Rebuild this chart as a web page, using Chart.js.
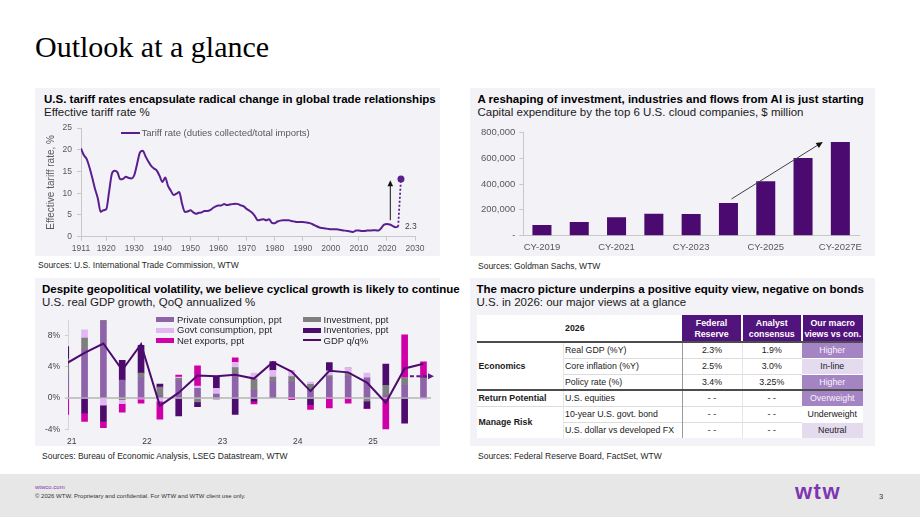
<!DOCTYPE html>
<html lang="en">
<head>
<meta charset="utf-8">
<title>Outlook at a glance</title>
<script src="https://cdn.jsdelivr.net/npm/chart.js@4.4.1/dist/chart.umd.min.js"></script>
<style>
html,body{margin:0;padding:0;}
body{width:920px;height:518px;position:relative;overflow:hidden;background:#fff;font-family:"Liberation Sans",Arial,Helvetica,sans-serif;}
.panel{position:absolute;background:#f3f2f7;width:405px;height:168px;}
.tx{position:absolute;white-space:nowrap;line-height:1;}
.ttl{font-size:11.5px;font-weight:bold;color:#000;}
.sub{font-size:11.5px;color:#1a1a1a;}
.src{font-size:8.5px;color:#262626;}
canvas{position:absolute;}
.lg{position:absolute;font-size:9.5px;line-height:1;white-space:nowrap;color:#262626;}
.sw{position:absolute;}
.cell{position:absolute;box-sizing:border-box;display:flex;align-items:center;font-size:8.8px;line-height:1.2;color:#1a1a1a;white-space:pre;}
.foot{position:absolute;left:0;top:474px;width:920px;height:43px;background:#e7e7e7;}
</style>
</head>
<body>
<div class="tx" style="left:35px;top:32px;font-family:'Liberation Serif','Times New Roman',serif;font-size:30px;color:#000;">Outlook at a glance</div>

<!-- panels -->
<div class="panel" style="left:35px;top:88px"></div>
<div class="panel" style="left:470px;top:88px"></div>
<div class="panel" style="left:35px;top:278px"></div>
<div class="panel" style="left:470px;top:278px"></div>

<!-- top-left -->
<div class="tx ttl" style="left:44px;top:94px">U.S. tariff rates encapsulate radical change in global trade relationships</div>
<div class="tx sub" style="left:44px;top:106.5px">Effective tariff rate %</div>
<canvas id="cTariff" width="405" height="140" style="left:35px;top:118px"></canvas>
<div id="lgTariff"></div>
<div class="tx src" style="left:38px;top:260.5px">Sources: U.S. International Trade Commission, WTW</div>

<!-- top-right -->
<div class="tx ttl" style="left:477.5px;top:94px">A reshaping of investment, industries and flows from AI is just starting</div>
<div class="tx sub" style="left:477.5px;top:106.5px">Capital expenditure by the top 6 U.S. cloud companies, $ million</div>
<canvas id="cCapex" width="405" height="140" style="left:470px;top:118px"></canvas>
<div class="tx src" style="left:478px;top:261.5px">Sources: Goldman Sachs, WTW</div>

<!-- bottom-left -->
<div class="tx ttl" style="left:42px;top:284px">Despite geopolitical volatility, we believe cyclical growth is likely to continue</div>
<div class="tx sub" style="left:42px;top:297.3px">U.S. real GDP growth, QoQ annualized %</div>
<canvas id="cGdp" width="405" height="137" style="left:35px;top:310px"></canvas>
<div id="lgGdp"></div>
<div class="tx src" style="left:42px;top:452px">Sources: Bureau of Economic Analysis, LSEG Datastream, WTW</div>

<!-- bottom-right -->
<div class="tx ttl" style="left:476.5px;top:284px">The macro picture underpins a positive equity view, negative on bonds</div>
<div class="tx sub" style="left:476.5px;top:297.3px">U.S. in 2026: our major views at a glance</div>
<div id="tbl"></div>
<div class="tx src" style="left:478px;top:452px">Sources: Federal Reserve Board, FactSet, WTW</div>

<!-- footer -->
<div class="foot"></div>
<div class="tx" style="left:35px;top:484px;font-size:6px;color:#7f35b2;">wtwco.com</div>
<div class="tx" style="left:35px;top:492.5px;font-size:6px;color:#333;">© 2026 WTW. Proprietary and confidential. For WTW and WTW client use only.</div>
<div class="tx" style="left:795px;top:481px;font-size:22px;font-weight:900;color:#7f35b2;letter-spacing:1.5px;">wtw</div>
<div class="tx" style="left:879px;top:493px;font-size:7.5px;color:#333;">3</div>

<script>
// ---------------- DATA ----------------
// Effective tariff rate (duties collected / total imports), %
const tariffYears = [1911,1912,1913,1914,1915,1916,1917,1918,1919,1920,
  1921,1922,1923,1924,1925,1926,1927,1928,1929,1930,
  1931,1932,1933,1934,1935,1936,1937,1938,1939,1940,
  1941,1942,1943,1944,1945,1946,1947,1948,1949,1950,
  1951,1952,1953,1954,1955,1956,1957,1958,1959,1960,
  1961,1962,1963,1964,1965,1966,1967,1968,1969,1970,
  1971,1972,1973,1974,1975,1976,1977,1978,1979,1980,
  1981,1982,1983,1984,1985,1986,1987,1988,1989,1990,
  1991,1992,1993,1994,1995,1996,1997,1998,1999,2000,
  2001,2002,2003,2004,2005,2006,2007,2008,2009,2010,
  2011,2012,2013,2014,2015,2016,2017,2018,2019,2020,
  2021,2022,2023,2024];
const tariffRates = [20.3,18.8,17.9,16.0,13.6,11.0,8.8,5.7,6.1,6.3,
  10.3,14.5,15.2,14.8,13.2,13.3,13.8,13.5,13.4,14.2,
  16.8,19.4,19.8,18.5,17.3,16.3,15.7,15.2,14.0,12.6,
  13.6,11.7,10.6,9.6,9.9,10.3,7.6,5.7,5.8,6.1,
  5.6,5.3,5.5,5.6,5.9,5.9,6.1,6.6,7.0,7.2,
  7.2,7.5,7.3,7.4,7.5,7.6,7.5,7.2,7.0,6.4,
  6.0,5.5,4.7,3.8,3.9,4.0,3.8,4.0,3.2,3.1,
  3.5,3.7,3.8,3.8,3.8,3.6,3.5,3.4,3.4,3.4,
  3.3,3.2,3.0,2.7,2.4,2.1,2.0,1.9,1.8,1.7,
  1.7,1.7,1.6,1.5,1.4,1.3,1.2,1.1,1.4,1.4,
  1.3,1.3,1.4,1.4,1.5,1.5,1.4,2.0,2.8,2.9,
  2.8,2.5,2.2,2.3];
const tariffProjYears = [2024, 2025];
const tariffProjRates = [2.3, 13.3];
const tariffTickYears = [1911,1920,1930,1940,1950,1960,1970,1980,1990,2000,2010,2020,2030];
const tariffArrow = {year: 2021.2, from: 3.8, to: 13.0};

// Capex of top 6 U.S. cloud companies, $ million
const capexYears = ['CY-2019','CY-2020','CY-2021','CY-2022','CY-2023','CY-2024','CY-2025','CY-2026','CY-2027E'];
const capexValues = [82000,106000,142000,170000,168000,253000,421000,601000,725000];
const capexArrow = {fromIndex: 5.08, fromValue: 284000, toIndex: 7.53, toValue: 725000};

// U.S. real GDP growth contributions, QoQ annualized
const gdpQuarters = ['20Q4','21Q1','21Q2','21Q3','21Q4','22Q1','22Q2','22Q3','22Q4','23Q1','23Q2','23Q3','23Q4','24Q1','24Q2','24Q3','24Q4','25Q1','25Q2','25Q3'];
const privCons    = [3.0, 6.2, 9.85, 2.3, 2.6, 0.3, 2.2, 1.25, 0.5, 3.2, 1.0, 2.1, 2.05, 1.0, 2.6, 2.8, 2.6, 0.4, 1.65, 2.4];
const investment  = [2.0, 1.5, 0.15, -0.2, 0.6, 1.1, 0.35, -0.5, -0.15, 0.7, 1.4, 0.6, 0.7, 0.75, 0.3, 0.4, -0.4, 1.25, 0.95, 0.2];
const govtCons    = [0.0, 1.05, -0.9, -0.5, -0.1, -0.4, 0.15, 0.3, 0.75, 0.7, 0.8, 0.85, 0.8, 0.3, 0.6, 0.65, 0.6, 0.0, 0.0, -0.15];
const inventories = [1.6, -1.9, -2.1, 2.55, 3.55, 0.4, -2.3, -0.6, 1.45, -2.1, -0.4, 1.1, 0.0, -0.85, 1.05, 0.0, -0.85, 2.7, -3.2, 0.0];
const netExports  = [-2.1, -1.1, -0.8, -1.1, -0.55, -2.3, 0.25, 2.6, 0.0, 0.55, -0.35, 0.0, -0.2, -0.6, -1.25, -0.65, -0.1, -4.1, 5.5, 2.05];
const gdpGrowth   = [4.4, 5.8, 7.0, 3.6, 6.9, -1.0, 0.7, 2.9, 2.8, 3.0, 2.5, 4.6, 3.4, 0.9, 3.5, 3.3, 2.0, -0.6, 3.8, 4.4];
const gdpYearLabels = ['21','22','23','24','25'];
const gdpYTicks = [-4, 0, 4, 8];
const gdpArrow = {fromIndex: 18.28, toIndex: 19.56, value: 2.8};

// Table: U.S. in 2026
const tableHead = ['2026', 'Federal\nReserve', 'Analyst\nconsensus', 'Our macro\nviews vs con.'];
const tableGroups = [['Economics', 0, 3], ['Return Potential', 3, 1], ['Manage Risk', 4, 2]];
const tableItems = ['Real GDP (%Y)', 'Core inflation (%Y)', 'Policy rate (%)', 'U.S. equities', '10-year U.S. govt. bond', 'U.S. dollar vs developed FX'];
const fedReserve = ['2.3%', '2.5%', '3.4%', '- -', '- -', '- -'];
const analystConsensus = ['1.9%', '3.0%', '3.25%', '- -', '- -', '- -'];
const ourViews = ['Higher', 'In-line', 'Higher', 'Overweight', 'Underweight', 'Neutral'];

// ---------------- STYLE ----------------
const FONT = '"Liberation Sans", Arial, sans-serif';
Chart.defaults.font.family = FONT;
Chart.defaults.color = '#595959';
Chart.defaults.animation = false;
const TICK = '#595959';
const AXIS = '#c8c8c8';
const PURPLE_LINE = '#5a1e8e';
const C_PRIV = '#8e63a9', C_INV = '#7f7f7f', C_GOV = '#e1b6f2', C_STK = '#4c0b6d', C_NX = '#d000a8', C_GDP = '#4c0b6d';
const C_CAPEX = '#4a0a70';
const noUi = {legend: {display: false}, tooltip: {enabled: false}};

function arrowHead(ctx, x, y, angle, len, half) {
  ctx.beginPath();
  ctx.moveTo(x, y);
  ctx.lineTo(x - len * Math.cos(angle) + half * Math.sin(angle), y - len * Math.sin(angle) - half * Math.cos(angle));
  ctx.lineTo(x - len * Math.cos(angle) - half * Math.sin(angle), y - len * Math.sin(angle) + half * Math.cos(angle));
  ctx.closePath();
  ctx.fill();
}

// ---------------- TARIFF CHART ----------------
const tariffNotes = {
  id: 'tariffNotes',
  afterDatasetsDraw(chart) {
    const {ctx, scales: {x, y}} = chart;
    const px = x.getPixelForValue(tariffArrow.year);
    const y0 = y.getPixelForValue(tariffArrow.from), y1 = y.getPixelForValue(tariffArrow.to);
    ctx.save();
    ctx.strokeStyle = '#111'; ctx.fillStyle = '#111'; ctx.lineWidth = 1;
    ctx.beginPath(); ctx.moveTo(px, y0); ctx.lineTo(px, y1 + 5); ctx.stroke();
    arrowHead(ctx, px, y1, -Math.PI / 2, 6, 2.8);
    const last = tariffRates[tariffRates.length - 1];
    ctx.font = '8.5px ' + FONT; ctx.fillStyle = '#404040';
    ctx.textAlign = 'left'; ctx.textBaseline = 'middle';
    ctx.fillText(last.toFixed(1), x.getPixelForValue(2026.4), y.getPixelForValue(last));
    ctx.restore();
  }
};
new Chart(document.getElementById('cTariff'), {
  type: 'line',
  data: {
    datasets: [
      {label: 'Tariff rate (duties collected/total imports)',
       data: tariffYears.map((yr, i) => ({x: yr, y: tariffRates[i]})),
       borderColor: PURPLE_LINE, borderWidth: 2, pointRadius: 0, cubicInterpolationMode: 'monotone', clip: 0},
      {label: 'Projection',
       data: tariffProjYears.map((yr, i) => ({x: yr, y: tariffProjRates[i]})),
       borderColor: PURPLE_LINE, borderWidth: 1.8, borderDash: [2, 2], pointRadius: [0, 3.5],
       pointBackgroundColor: PURPLE_LINE, pointBorderWidth: 0}
    ]
  },
  options: {
    responsive: false, devicePixelRatio: 1,
    layout: {padding: {left: 0, right: 25, top: 9.3, bottom: 0}},
    plugins: noUi,
    scales: {
      x: {type: 'linear', min: 1911, max: 2030,
          afterBuildTicks: s => { s.ticks = tariffTickYears.map(v => ({value: v})); },
          afterFit: s => { s.height = 21.3; },
          ticks: {callback: v => String(v), font: {size: 8.5}, color: TICK, padding: 3, maxRotation: 0, autoSkip: false},
          grid: {drawOnChartArea: false, tickLength: 4, color: AXIS},
          border: {color: AXIS}},
      y: {min: 0, max: 25,
          afterFit: s => { s.width = 46; },
          ticks: {stepSize: 5, font: {size: 8.5}, color: TICK, padding: 5},
          grid: {drawOnChartArea: false, tickLength: 4, color: AXIS},
          border: {color: AXIS},
          title: {display: true, text: 'Effective tariff rate, %', font: {size: 10}, color: TICK, padding: {top: 10, bottom: 0}}}
    }
  },
  plugins: [tariffNotes]
});
// HTML legend (tariff)
(function () {
  const el = document.getElementById('lgTariff');
  el.innerHTML = '<div class="sw" style="left:121px;top:132px;width:19px;height:2px;background:' + PURPLE_LINE + '"></div>' +
    '<div class="lg" style="left:141.5px;top:128.3px;color:#595959">Tariff rate (duties collected/total imports)</div>';
})();

// ---------------- CAPEX CHART ----------------
const capexNotes = {
  id: 'capexNotes',
  afterDatasetsDraw(chart) {
    const {ctx, scales: {x, y}} = chart;
    const x0 = x.getPixelForValue(capexArrow.fromIndex), y0 = y.getPixelForValue(capexArrow.fromValue);
    const x1 = x.getPixelForValue(capexArrow.toIndex), y1 = y.getPixelForValue(capexArrow.toValue);
    const a = Math.atan2(y1 - y0, x1 - x0);
    ctx.save();
    ctx.strokeStyle = '#404040'; ctx.fillStyle = '#111'; ctx.lineWidth = 1;
    ctx.beginPath(); ctx.moveTo(x0, y0); ctx.lineTo(x1 - 5 * Math.cos(a), y1 - 5 * Math.sin(a)); ctx.stroke();
    arrowHead(ctx, x1, y1, a, 6.5, 3);
    ctx.restore();
  }
};
new Chart(document.getElementById('cCapex'), {
  type: 'bar',
  data: {labels: capexYears,
         datasets: [{label: 'Capex', data: capexValues, backgroundColor: C_CAPEX, categoryPercentage: 1, barPercentage: 0.51}]},
  options: {
    responsive: false, devicePixelRatio: 1,
    layout: {padding: {left: 0, right: 16, top: 14.3, bottom: 0}},
    plugins: noUi,
    scales: {
      x: {afterFit: s => { s.height = 22.3; },
          ticks: {callback: (v, i) => (i % 2 === 0 ? capexYears[i] : ''), autoSkip: false, maxRotation: 0,
                  font: {size: 9.5}, color: TICK, padding: 6},
          grid: {display: false, drawTicks: false},
          border: {color: AXIS}},
      y: {min: 0, max: 800000,
          afterFit: s => { s.width = 53.3; },
          ticks: {stepSize: 200000, callback: v => (v === 0 ? '-' : v.toLocaleString('en-US')),
                  font: {size: 9.5}, color: TICK, padding: 4},
          grid: {drawOnChartArea: false, tickLength: 4, color: AXIS},
          border: {color: AXIS}}
    }
  },
  plugins: [capexNotes]
});

// ---------------- GDP CHART ----------------
const gdpNotes = {
  id: 'gdpNotes',
  afterDatasetsDraw(chart) {
    const {ctx, scales: {x, y}} = chart;
    const x0 = x.getPixelForValue(gdpArrow.fromIndex), x1 = x.getPixelForValue(gdpArrow.toIndex);
    const yy = y.getPixelForValue(gdpArrow.value);
    ctx.save();
    ctx.strokeStyle = '#5a1a8a'; ctx.fillStyle = '#5a1a8a'; ctx.lineWidth = 2;
    ctx.setLineDash([4, 2.5]);
    ctx.beginPath(); ctx.moveTo(x0, yy); ctx.lineTo(x1 - 5, yy); ctx.stroke();
    ctx.setLineDash([]);
    arrowHead(ctx, x1, yy, 0, 6, 3);
    ctx.restore();
  }
};
const toXY = arr => arr.map((v, i) => ({x: i, y: v}));
const barSet = (label, arr, color) => ({type: 'bar', label, data: toXY(arr), backgroundColor: color,
  stack: 'bars', order: 1, barThickness: 6, borderWidth: 0, clip: 0});
const gdpDatasets = [
  {type: 'line', label: 'GDP q/q%', data: toXY(gdpGrowth), borderColor: C_GDP, borderWidth: 2,
   pointRadius: 0, tension: 0, stack: 'line', order: 0, clip: 0},
  barSet('Private consumption, ppt', privCons, C_PRIV),
  barSet('Investment, ppt', investment, C_INV),
  barSet('Govt consumption, ppt', govtCons, C_GOV),
  barSet('Inventories, ppt', inventories, C_STK),
  barSet('Net exports, ppt', netExports, C_NX)
];
new Chart(document.getElementById('cGdp'), {
  type: 'bar',
  data: {datasets: gdpDatasets},
  options: {
    responsive: false, devicePixelRatio: 1,
    layout: {padding: {left: 0, right: 9, top: 7.3, bottom: 0}},
    plugins: noUi,
    scales: {
      x: {type: 'linear', min: 0.12, max: 19.4, offset: false, stacked: true,
          afterBuildTicks: s => { s.ticks = gdpYearLabels.map(lbl => ({value: gdpQuarters.indexOf(lbl + 'Q1') - 0.68})); },
          afterFit: s => { s.height = 17.7; },
          ticks: {callback: (v, i) => gdpYearLabels[i], font: {size: 8.5}, color: '#404040', padding: 7, maxRotation: 0, autoSkip: false},
          grid: {display: false, drawTicks: false},
          border: {display: false}},
      y: {stacked: true, min: -4, max: 10,
          afterBuildTicks: s => { s.ticks = gdpYTicks.map(v => ({value: v})); },
          afterFit: s => { s.width = 33; },
          ticks: {callback: v => v + '%', font: {size: 8.5}, color: '#404040', padding: 5},
          grid: {color: c => (c.tick && c.tick.value === 0 ? '#c4c4c4' : 'rgba(0,0,0,0)'),
                 lineWidth: c => (c.tick && c.tick.value === 0 ? 2 : 1),
                 tickColor: '#cfcfcf', tickLength: 3},
          border: {color: '#d6d6d6'}}
    }
  },
  plugins: [gdpNotes]
});
// HTML legend (GDP), two columns x three rows
(function () {
  const el = document.getElementById('lgGdp');
  const colX = [156, 302.5];
  const rowY = [319.7, 330, 340.3];
  const order = [[1, 0, 0], [2, 1, 0], [3, 0, 1], [4, 1, 1], [5, 0, 2], [0, 1, 2]];
  let h = '';
  order.forEach(([di, c, r]) => {
    const ds = gdpDatasets[di];
    const cy = rowY[r];
    if (ds.type === 'line') {
      h += '<div class="sw" style="left:' + colX[c] + 'px;top:' + (cy - 1) + 'px;width:18px;height:2px;background:' + ds.borderColor + '"></div>';
    } else {
      h += '<div class="sw" style="left:' + colX[c] + 'px;top:' + (cy - 2.5) + 'px;width:18px;height:5px;background:' + ds.backgroundColor + '"></div>';
    }
    h += '<div class="lg" style="left:' + (colX[c] + 21) + 'px;top:' + (cy - 4.75) + 'px">' + ds.label + '</div>';
  });
  el.innerHTML = h;
})();

// ---------------- TABLE ----------------
(function () {
  const colX = [477, 563, 682, 742, 801.5, 863];
  const headTop = 315, headH = 27, rowH = 16;
  const rowTop = i => headTop + headH + i * rowH;
  const el = document.getElementById('tbl');
  let h = '';
  const cell = (x0, x1, y0, y1, txt, style) => {
    h += '<div class="cell" style="left:' + x0 + 'px;top:' + y0 + 'px;width:' + (x1 - x0) + 'px;height:' + (y1 - y0) + 'px;' + style + '">' + txt + '</div>';
  };
  // white background of table
  cell(colX[0], colX[5], headTop, rowTop(6), '', 'background:#fff;');
  // header
  cell(colX[1], colX[2], headTop, headTop + headH, tableHead[0], 'font-weight:bold;padding-left:2px;');
  for (let c = 0; c < 3; c++) {
    cell(colX[2 + c] + (c ? 1 : 0), colX[3 + c] - (c < 2 ? 1 : 0), headTop, headTop + headH, tableHead[1 + c],
      'background:#51137c;color:#fff;font-weight:bold;justify-content:center;text-align:center;line-height:1.15;');
  }
  // body
  const viewStyle = v => {
    if (v === 'Higher' || v === 'Overweight') return 'background:#a584c4;color:#f7f2fb;';
    if (v === 'In-line' || v === 'Neutral') return 'background:#e4dbef;color:#1a1a1a;';
    return 'background:#fff;color:#1a1a1a;';
  };
  tableItems.forEach((item, i) => {
    const y0 = rowTop(i), y1 = rowTop(i + 1);
    cell(colX[1], colX[2], y0, y1, item, 'padding-left:2px;');
    cell(colX[2], colX[3], y0, y1, fedReserve[i], 'justify-content:center;');
    cell(colX[3], colX[4], y0, y1, analystConsensus[i], 'justify-content:center;');
    cell(colX[4], colX[5], y0 + 0.5, y1 - 0.5, ourViews[i], 'justify-content:center;' + viewStyle(ourViews[i]));
  });
  tableGroups.forEach(([name, start, n]) => {
    cell(colX[0], colX[1], rowTop(start), rowTop(start + n), name, 'font-weight:bold;padding-left:1.5px;');
  });
  // rules
  const hline = (x0, x1, y, color, w) => {
    h += '<div style="position:absolute;left:' + x0 + 'px;top:' + (y - w / 2) + 'px;width:' + (x1 - x0) + 'px;height:' + w + 'px;background:' + color + '"></div>';
  };
  const vline = (x, y0, y1, color, w) => {
    h += '<div style="position:absolute;left:' + (x - w / 2) + 'px;top:' + y0 + 'px;width:' + w + 'px;height:' + (y1 - y0) + 'px;background:' + color + '"></div>';
  };
  [1, 2, 4, 5].forEach(i => hline(colX[1], colX[4], rowTop(i), '#dcdcdc', 1));
  hline(colX[0], colX[4], rowTop(4), '#dcdcdc', 1);
  vline(colX[1], rowTop(0), rowTop(6), '#e6e6e6', 1);
  vline(colX[3], rowTop(0), rowTop(6), '#e6e6e6', 1);
  vline(colX[2], rowTop(0), rowTop(6), '#9a9a9a', 1);
  hline(colX[0], colX[5], rowTop(0), '#4d4d4d', 1.2);
  hline(colX[0], colX[5], rowTop(3), '#4d4d4d', 1.2);
  el.innerHTML = h;
})();
</script>
</body>
</html>
